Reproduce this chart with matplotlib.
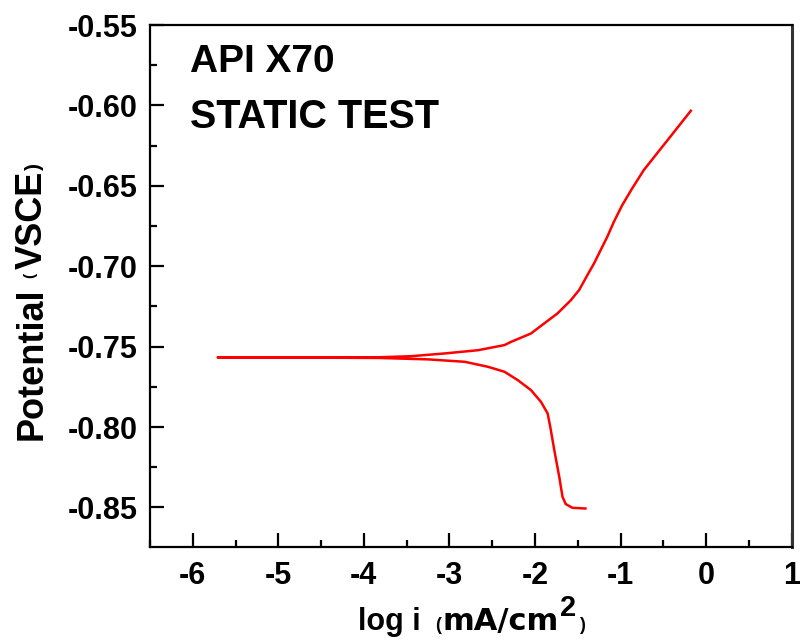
import matplotlib.pyplot as plt
from matplotlib.ticker import MultipleLocator
from matplotlib.transforms import IdentityTransform

plt.rcParams["font.family"] = ["Liberation Sans", "DejaVu Sans"]
plt.rcParams["font.weight"] = "bold"

# potentiodynamic sweep, cathodic end -> corrosion potential -> anodic end
log_i = [-1.410, -1.426, -1.562, -1.640, -1.678, -1.716, -1.774, -1.821,
         -1.852, -1.930, -2.047, -2.201, -2.356, -2.550, -2.821, -3.248,
         -3.829, -4.800, -5.709,
         -4.800, -3.829, -3.442, -3.053, -2.666, -2.356, -2.279, -2.047,
         -1.891, -1.736, -1.581, -1.484, -1.387, -1.309, -1.233, -1.155,
         -1.077, -0.980, -0.864, -0.728, -0.573, -0.419, -0.178]
potential = [-0.8506, -0.8506, -0.8502, -0.8479, -0.8434, -0.8310, -0.8143,
             -0.7999, -0.7915, -0.7843, -0.7770, -0.7708, -0.7656, -0.7625,
             -0.7594, -0.7579, -0.7570, -0.7568, -0.7567,
             -0.7566, -0.7566, -0.7559, -0.7542, -0.7522, -0.7490, -0.7470,
             -0.7418, -0.7355, -0.7293, -0.7211, -0.7148, -0.7055, -0.6982,
             -0.6900, -0.6817, -0.6723, -0.6620, -0.6516, -0.6402, -0.6298,
             -0.6195, -0.6033]

x_ticks = [-6, -5, -4, -3, -2, -1, 0, 1]
y_ticks = [-0.85, -0.80, -0.75, -0.70, -0.65, -0.60, -0.55]

# axis titles as (text, size, family, gap before, rise)
x_title = [("log i", 22, "Liberation Sans", 0, 0),
           ("(", 13, "Liberation Sans", 14, 0),
           ("mA/cm", 22, "DejaVu Sans", 2, 0),
           ("2", 21, "Liberation Sans", 1, 14),
           (")", 13, "Liberation Sans", 3, 0)]
y_title = [("Potential", 26, "Liberation Sans", 0, 0),
           ("(", 11, "Liberation Sans", 9, 8),
           ("VSCE", 26, "Liberation Sans", 4, 0),
           (")", 15, "Liberation Sans", 1, 2)]


def draw_title(fig, pieces, x0, y0, vertical=False):
    # lay the pieces one after another along the baseline, in pixels
    renderer = fig.canvas.get_renderer()
    pos = 0.0
    for s, size, family, gap, rise in pieces:
        pos += gap
        t = fig.text(0, 0, s, fontsize=size, family=family, fontweight="bold",
                     transform=IdentityTransform(), ha="left", va="baseline",
                     rotation_mode="anchor")
        w = t.get_window_extent(renderer).width
        if vertical:
            t.set_position((x0 - rise, y0 + pos))
            t.set_rotation(90)
        else:
            t.set_position((x0 + pos, y0 + rise))
        pos += w
    return pos


fig = plt.figure(figsize=(8, 6.43), dpi=100)
ax = fig.add_axes([0.1875, 0.149, 0.802, 0.812])

ax.plot(log_i, potential, color="red", lw=1.8)

ax.set_xlim(-6.5, 1)
ax.set_ylim(-0.8747, -0.55)
ax.set_xticks(x_ticks)
ax.set_yticks(y_ticks)
ax.set_xticklabels([str(t) for t in x_ticks])
ax.set_yticklabels(["%.2f" % t for t in y_ticks])
ax.xaxis.set_minor_locator(MultipleLocator(0.5))
ax.yaxis.set_minor_locator(MultipleLocator(0.025))

for side in ["left", "bottom", "top"]:
    ax.spines[side].set_linewidth(1.6)
ax.spines["right"].set_linewidth(2.2)
ax.spines["right"].set_color("#333333")

ax.tick_params(which="major", direction="in", length=10, width=1.6,
               labelsize=22, left=True, bottom=True, top=False, right=False)
ax.tick_params(which="minor", direction="in", length=5, width=1.6,
               left=True, bottom=True, top=False, right=False)
ax.tick_params(axis="x", which="major", pad=10)
ax.tick_params(axis="y", which="major", pad=9)

ax.text(0.062, 0.910, "API X70", transform=ax.transAxes, fontsize=28,
        fontweight="bold", va="baseline")
ax.text(0.062, 0.803, "STATIC TEST", transform=ax.transAxes, fontsize=28.5,
        fontweight="bold", va="baseline")

draw_title(fig, x_title, 358, 13)
draw_title(fig, y_title, 42, 203, vertical=True)

fig.savefig("out.png", dpi=100)
